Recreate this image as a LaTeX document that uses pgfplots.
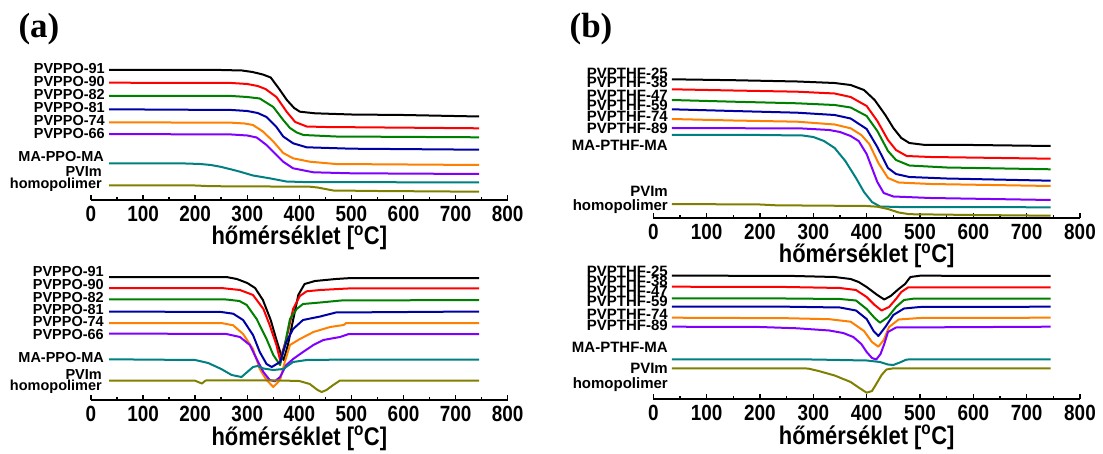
\documentclass[border=0pt]{standalone}
\usepackage{fontspec}
\setmainfont{Liberation Sans}
\newfontfamily\letterfont{Liberation Serif}
\usepackage{graphicx}
\usepackage{pgfplots}
\pgfplotsset{compat=1.18}

\definecolor{cred}{RGB}{255,0,0}
\definecolor{cgreen}{RGB}{0,128,0}
\definecolor{cblue}{RGB}{0,0,165}
\definecolor{corange}{RGB}{255,128,0}
\definecolor{cpurple}{RGB}{128,0,255}
\definecolor{cteal}{RGB}{0,128,128}
\definecolor{colive}{RGB}{128,128,0}

\pgfplotsset{
  panel/.style={
    scale only axis, clip=false,
    xmin=0, xmax=800, ymin=0, ymax=150, height=150pt,
    axis x line*=bottom, axis y line=none,
    axis line style={line width=2pt, -},
    xtick={0,100,...,800}, minor x tick num=1, ytick=\empty,
    tick align=inside, major tick length=5pt, minor tick length=3pt,
    tick style={line width=1.5pt, black},
    /pgf/number format/assume math mode=true,
    xticklabel={\scalebox{0.86}[1]{\pgfmathprintnumber{\tick}}},
    xticklabel style={font=\fontsize{22}{22}\selectfont\bfseries, anchor=base, inner sep=0pt, yshift=-21.7pt},
    xlabel={\scalebox{0.86}[1]{hőmérséklet [\textsuperscript{o}C]}},
    xlabel style={font=\fontsize{25.5}{25.5}\selectfont\bfseries, at={(axis description cs:0.5,0)}, anchor=base, inner sep=0pt, yshift=-45pt},
    every axis plot/.append style={no markers, line width=2pt, line join=round},
  },
}
\tikzset{
  lab/.style={anchor=east, inner sep=0pt, text height=0.72em, text depth=0pt, font=\fontsize{14.5}{14.5}\selectfont\bfseries},
  labb/.style={lab, font=\fontsize{15}{15}\selectfont\bfseries},
}

\begin{document}
\begin{tikzpicture}[x=1pt, y=1pt]
\useasboundingbox (0,0) rectangle (1103,453);

\node[anchor=center, inner sep=0pt, font=\fontsize{35}{35}\selectfont\letterfont\bfseries] at (39,424) {(a)};
\node[anchor=center, inner sep=0pt, font=\fontsize{35}{35}\selectfont\letterfont\bfseries] at (591,424) {(b)};

% (a) top: TGA
\begin{axis}[panel, width=416.7pt, at={(91pt,253pt)}, anchor=south west]
\addplot[black] coordinates {(35,130) (250,130) (290,129.5) (310,128) (330,125.5) (345,122.5) (360,112) (376,100) (390,92) (401,88.3) (430,86.7) (500,85.5) (600,85) (745,83.5)};
\addplot[cred] coordinates {(35,117.3) (270,117) (300,116) (320,114) (335,111) (356,103) (376,88) (392,78) (414,73.5) (450,73) (745,71.7)};
\addplot[cgreen] coordinates {(35,104) (270,104) (300,103) (324,101.5) (350,93) (369,80) (382,72) (395,67.5) (408,65) (470,63.5) (745,62.7)};
\addplot[cblue] coordinates {(35,90.7) (270,90) (300,89) (320,87) (337,83) (356,73) (369,63.5) (388,56.7) (414,52.7) (500,51.3) (745,50.3)};
\addplot[corange] coordinates {(35,77.7) (270,77.3) (295,76.5) (311,75) (330,68.5) (350,58.5) (369,47) (388,41.7) (420,38.3) (470,36) (745,35)};
\addplot[cpurple] coordinates {(35,66) (270,65.5) (300,64.5) (318,62.5) (337,55) (356,45) (369,38.3) (388,31.7) (427,27.7) (500,26.7) (745,26)};
\addplot[cteal] coordinates {(35,36.7) (170,36.7) (210,36) (230,35) (248,33.3) (270,30.5) (286,28.3) (311,24.5) (343,21.7) (375,18.5) (420,17.8) (745,17.7)};
\addplot[colive] coordinates {(35,14.7) (200,14.5) (230,13.8) (420,13.3) (435,12.5) (450,11) (465,9.5) (550,9) (745,8.3)};
\end{axis}

% (a) bottom: DTG
\begin{axis}[panel, width=416.7pt, at={(91pt,53pt)}, anchor=south west]
\addplot[black] coordinates {(35,123) (260,123) (280,121) (300,117) (315,112) (330,100) (345,80) (355,62) (365,45) (370,40) (378,55) (388,80) (398,105) (410,116) (430,119) (470,121) (500,122) (745,122)};
\addplot[cred] coordinates {(35,112) (250,112) (286,110) (311,105) (331,91) (343,75) (356,55) (363,40) (375,61) (388,91) (401,104) (414,108.7) (440,110) (500,111.7) (745,111.7)};
\addplot[cgreen] coordinates {(35,100.7) (260,100.5) (285,99) (299,95) (318,81) (337,61) (350,45) (363,35) (372,55) (382,81) (395,91) (407,96) (440,97.5) (480,99.5) (745,100)};
\addplot[cblue] coordinates {(35,88.5) (250,88) (273,86.3) (292,80) (311,65) (324,48) (337,36) (347,33) (363,38) (375,58) (388,71) (407,80) (440,83.5) (470,87.5) (745,88.5)};
\addplot[corange] coordinates {(35,77) (250,77) (273,74.7) (292,66) (311,51) (324,31) (337,20) (350,13) (363,20) (372,38) (382,55) (401,61) (427,68) (459,73) (485,75) (490,77) (745,77)};
\addplot[cpurple] coordinates {(35,66.5) (260,66) (286,63) (305,55) (318,41) (331,28) (343,20) (353,18.7) (363,23) (375,35) (388,41) (407,48) (427,55) (446,60) (478,63) (495,66) (745,66)};
\addplot[cteal] coordinates {(35,40.7) (200,40) (225,37) (250,31) (270,25) (289,23) (300,28) (311,33) (320,34) (331,31.5) (350,30) (369,31) (388,38) (414,40) (500,40.5) (745,40.5)};
\addplot[colive] coordinates {(35,19.3) (200,19.3) (208,17.5) (213,16.5) (220,19.5) (350,19.7) (400,19) (420,16) (435,10) (443,8) (452,10) (465,15) (478,19.5) (745,19.3)};
\end{axis}

% (b) top: TGA
\begin{axis}[panel, width=426.7pt, at={(653.3pt,235pt)}, anchor=south west]
\addplot[black] coordinates {(35,138.7) (150,137.8) (270,136.5) (340,135) (370,133) (395,128) (415,118) (435,103) (450,90) (465,80) (480,75) (510,73) (600,73) (745,72)};
\addplot[cred] coordinates {(35,128.7) (150,127.5) (270,126.3) (340,124.5) (370,121) (400,112) (420,97) (440,78) (455,68) (475,62) (520,61) (745,59.3)};
\addplot[cgreen] coordinates {(35,118) (150,116.3) (270,114.7) (340,113) (370,110.5) (400,102) (420,87) (440,67) (455,58) (480,52.5) (550,50.5) (745,48.7)};
\addplot[cblue] coordinates {(35,108.7) (150,107) (270,105.3) (340,103) (370,99.5) (400,89) (420,71) (440,50) (455,44) (480,41) (550,39.5) (745,37.3)};
\addplot[corange] coordinates {(35,99) (150,97.5) (270,96.3) (340,93.5) (370,89.7) (390,83) (405,74) (422,55) (440,40) (460,35.5) (520,34) (745,32)};
\addplot[cpurple] coordinates {(35,90) (150,89.8) (280,89.5) (330,88) (350,86) (370,82) (385,77) (400,64) (410,50) (420,36) (432,25) (450,21.5) (520,20) (745,18)};
\addplot[cteal] coordinates {(35,83) (200,83) (280,82.5) (300,81) (320,77) (340,70) (360,57) (380,40) (395,26) (410,16) (425,11.5) (460,11) (745,10.7)};
\addplot[colive] coordinates {(35,14) (200,13.5) (230,12.7) (400,12) (420,11.3) (440,9) (460,5.5) (480,3.8) (600,3) (745,2.3)};
\end{axis}

% (b) bottom: DTG
\begin{axis}[panel, width=426.7pt, at={(653.3pt,54pt)}, anchor=south west]
\addplot[black] coordinates {(35,123.3) (250,123.2) (340,122) (370,120) (385,117) (400,112) (420,104) (433,99.5) (445,103) (460,110) (472,115) (482,122) (500,123.3) (745,123)};
\addplot[cred] coordinates {(35,112.3) (250,112) (350,111) (380,109) (400,102) (415,94) (428,88.5) (442,92) (455,100) (465,107) (478,111.7) (745,111.7)};
\addplot[cgreen] coordinates {(35,100.7) (250,100.5) (350,100) (380,98.5) (400,90) (415,81) (425,76.3) (440,82) (455,92) (470,99) (490,100.5) (745,100.5)};
\addplot[cblue] coordinates {(35,92.5) (250,92.3) (350,91.5) (380,88.5) (400,80) (413,68) (422,63) (435,72) (450,84) (470,90.5) (500,92) (745,92.3)};
\addplot[corange] coordinates {(35,81.3) (250,80.8) (330,79.8) (370,77.3) (395,68) (410,57) (422,52.3) (432,59) (442,72) (460,79.5) (500,81) (745,81.3)};
\addplot[cpurple] coordinates {(35,72.3) (200,72) (270,70.7) (330,68.5) (356,66) (375,62) (390,55) (400,47) (410,41) (418,39.5) (426,45) (433,55) (440,67) (455,71.5) (745,72.3)};
\addplot[cteal] coordinates {(35,39.7) (300,39.5) (400,38.5) (425,37) (440,34.5) (450,34) (462,36.5) (475,39.5) (745,39.7)};
\addplot[colive] coordinates {(35,30.7) (290,30.5) (310,28) (340,23.5) (370,17) (385,11.5) (400,6.3) (410,8) (418,15) (428,24) (437,29.5) (450,30.7) (745,30.7)};
\end{axis}

% series labels (a)
\node[lab] at (105,383) {PVPPO-91};
\node[lab] at (105,370.3) {PVPPO-90};
\node[lab] at (105,357.3) {PVPPO-82};
\node[lab] at (105,344) {PVPPO-81};
\node[lab] at (105,331) {PVPPO-74};
\node[lab] at (105,318) {PVPPO-66};
\node[lab] at (104,294.7) {MA-PPO-MA};
\node[lab] at (102,279.7) {PVIm};
\node[lab] at (102,268) {homopolimer};

\node[lab] at (104,179.7) {PVPPO-91};
\node[lab] at (104,167) {PVPPO-90};
\node[lab] at (104,154) {PVPPO-82};
\node[lab] at (104,142) {PVPPO-81};
\node[lab] at (104,130.3) {PVPPO-74};
\node[lab] at (104,117) {PVPPO-66};
\node[lab] at (104,93.7) {MA-PPO-MA};
\node[lab] at (102,77) {PVIm};
\node[lab] at (102,65.7) {homopolimer};

% series labels (b)
\node[labb] at (668,378) {PVPTHF-25};
\node[labb] at (668,368.7) {PVPTHF-38};
\node[labb] at (668,356.3) {PVPTHF-47};
\node[labb] at (668,345.7) {PVPTHF-59};
\node[labb] at (668,334.7) {PVPTHF-74};
\node[labb] at (668,323) {PVPTHF-89};
\node[labb] at (668,306.3) {MA-PTHF-MA};
\node[labb] at (668,260.3) {PVIm};
\node[labb] at (668,246.3) {homopolimer};

\node[labb] at (668,179.7) {PVPTHF-25};
\node[labb] at (668,169.7) {PVPTHF-38};
\node[labb] at (668,160.3) {PVPTHF-47};
\node[labb] at (668,149.7) {PVPTHF-59};
\node[labb] at (668,137) {PVPTHF-74};
\node[labb] at (668,125.7) {PVPTHF-89};
\node[labb] at (668,103.7) {MA-PTHF-MA};
\node[labb] at (668,83) {PVIm};
\node[labb] at (668,68) {homopolimer};
\end{tikzpicture}
\end{document}
